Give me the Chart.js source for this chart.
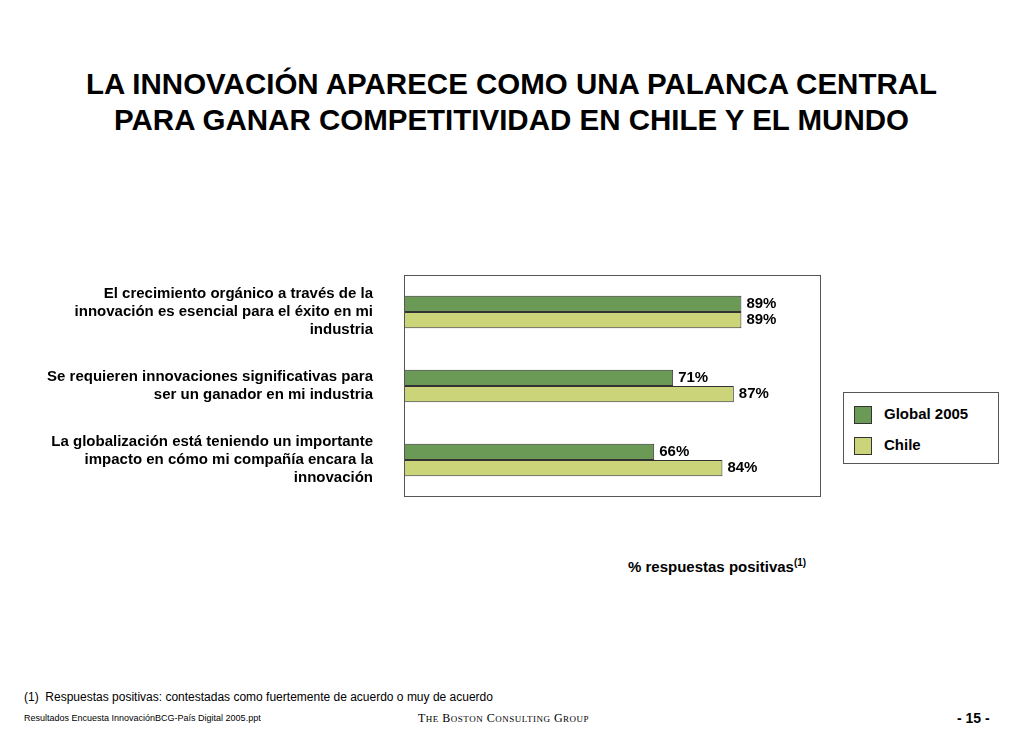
<!DOCTYPE html>
<html><head><meta charset="utf-8">
<script src="https://cdn.jsdelivr.net/npm/chart.js@4"></script>
<style>
body{margin:0;width:1023px;height:731px;background:#fff;font-family:"Liberation Sans",Arial,sans-serif;position:relative;overflow:hidden}
.abs{position:absolute}
h1{position:absolute;left:0;width:1023px;top:66px;margin:0;text-align:center;font-size:29.5px;line-height:36px;font-weight:bold}
#c{position:absolute;left:0;top:225px}
.leg{left:843px;top:392px;width:154px;height:70px;border:1px solid #555}
.sw{display:inline-block;width:16px;height:16px;border:1px solid #333;vertical-align:middle;margin-right:12px}
.leg div{font-weight:bold;font-size:15px;margin:12px 0 0 10px}
</style></head><body>
<h1>LA INNOVACIÓN APARECE COMO UNA PALANCA CENTRAL<br>PARA GANAR COMPETITIVIDAD EN CHILE Y EL MUNDO</h1>
<canvas id="c" width="821" height="322"></canvas>
<div class="abs" style="left:628px;top:557px;font-weight:bold;font-size:15px">% respuestas positivas<sup style="font-size:10px">(1)</sup></div>
<div class="abs leg">
 <div><span class="sw" style="background:#6a9a55"></span>Global 2005</div>
 <div><span class="sw" style="background:#ccd47a"></span>Chile</div>
</div>
<div class="abs" style="left:24px;top:690px;font-size:12px">(1)&nbsp; Respuestas positivas: contestadas como fuertemente de acuerdo o muy de acuerdo</div>
<div class="abs" style="left:24px;top:713px;font-size:9px">Resultados Encuesta InnovaciónBCG-País Digital 2005.ppt</div>
<div class="abs" style="left:418px;top:711px;font-size:12px;font-family:'Liberation Serif',serif;letter-spacing:0.5px">T<span style="font-size:9px">HE</span> B<span style="font-size:9px">OSTON</span> C<span style="font-size:9px">ONSULTING</span> G<span style="font-size:9px">ROUP</span></div>
<div class="abs" style="left:957px;top:710px;font-size:14px;font-weight:bold">- 15 -</div>
<script>
const categories = [
  ["El crecimiento orgánico a través de la", "innovación es esencial para el éxito en mi", "industria"],
  ["Se requieren innovaciones significativas para", "ser un ganador en mi industria"],
  ["La globalización está teniendo un importante", "impacto en cómo mi compañía encara la", "innovación"]
];
const global2005 = [89, 71, 66];
const chile = [89, 87, 84];

const boxPlugin = {
  id: 'box',
  afterDraw(chart) {
    const a = chart.chartArea, ctx = chart.ctx;
    ctx.save();
    ctx.strokeStyle = '#555'; ctx.lineWidth = 1;
    ctx.strokeRect(a.left + 0.5, a.top + 0.5, a.right - a.left - 1, a.bottom - a.top - 1);
    ctx.font = 'bold 15px "Liberation Sans", Arial';
    ctx.fillStyle = '#000'; ctx.textBaseline = 'middle';
    chart.data.datasets.forEach((ds, i) => {
      chart.getDatasetMeta(i).data.forEach((bar, j) => {
        ctx.fillText(ds.data[j] + '%', bar.x + 5, bar.y);
      });
    });
    ctx.restore();
  }
};

new Chart(document.getElementById('c'), {
  type: 'bar',
  data: {
    labels: categories,
    datasets: [
      { label: 'Global 2005', data: global2005, backgroundColor: '#6a9a55', borderColor: '#333', borderWidth: 1 },
      { label: 'Chile', data: chile, backgroundColor: '#ccd47a', borderColor: '#333', borderWidth: 1 }
    ]
  },
  options: {
    indexAxis: 'y',
    responsive: false,
    animation: { duration: 0 },
    layout: { padding: 0 },
    categoryPercentage: 0.44,
    barPercentage: 1,
    scales: {
      x: { display: false, min: 0, max: 110 },
      y: {
        grid: { display: false },
        border: { display: false },
        ticks: { color: '#000', padding: 23, font: { family: '"Liberation Sans", Arial', size: 15, weight: 'bold', lineHeight: 1.2 } },
        afterFit(s) { s.width = 404; }
      }
    },
    plugins: { legend: { display: false }, tooltip: { enabled: false } }
  },
  plugins: [boxPlugin]
});
</script>
</body></html>
